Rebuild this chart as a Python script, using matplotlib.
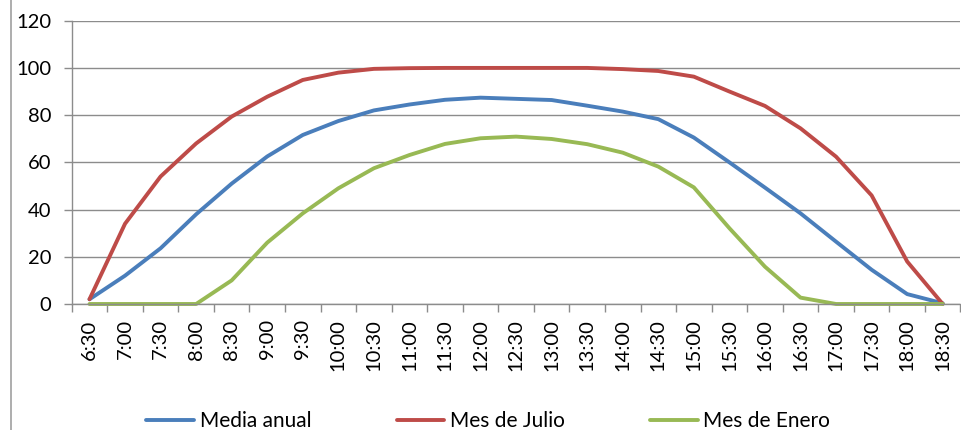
import matplotlib
matplotlib.use("Agg")
import matplotlib.pyplot as plt
from matplotlib.lines import Line2D

plt.rcParams['font.family'] = ['Lato', 'DejaVu Sans']

horas = ["6:30", "7:00", "7:30", "8:00", "8:30", "9:00", "9:30", "10:00", "10:30",
         "11:00", "11:30", "12:00", "12:30", "13:00", "13:30", "14:00", "14:30",
         "15:00", "15:30", "16:00", "16:30", "17:00", "17:30", "18:00", "18:30"]

media_anual = [2, 12, 23.6, 38, 51, 62.5, 71.6, 77.5, 82, 84.5, 86.5, 87.4, 86.9,
               86.4, 84, 81.5, 78.3, 70.5, 60, 49.3, 38.4, 26.4, 14.5, 4.2, 0.3]
mes_julio = [2, 34, 54, 68, 79.4, 87.8, 94.9, 98, 99.6, 99.9, 100, 100, 100,
             100, 100, 99.5, 98.7, 96.3, 90, 83.9, 74.4, 62.4, 46, 18, 0]
mes_enero = [0, 0, 0, 0, 10, 26, 38.4, 49, 57.5, 63.1, 67.8, 70.2, 70.9,
             69.9, 67.7, 64.1, 58.2, 49.4, 32.1, 15.8, 2.7, 0, 0, 0, 0]

series = [("Media anual", media_anual, "#4A7EBB"),
          ("Mes de Julio", mes_julio, "#BE4B48"),
          ("Mes de Enero", mes_enero, "#98B954")]

W, H = 961, 430
fig = plt.figure(figsize=(W / 100, H / 100), dpi=100)
ax = fig.add_axes([71.7 / W, (H - 304) / H, 888.8 / W, 283.3 / H])

x = list(range(len(horas)))
for nombre, valores, color in series:
    ax.plot(x, valores, color=color, lw=2.8, label=nombre,
            solid_joinstyle='round', solid_capstyle='round', clip_on=False)

grid_c = "#8C8C8C"
ax.set_ylim(0, 120)
ax.set_xlim(-0.5, len(horas) - 0.5)
ax.set_yticks(range(0, 121, 20))
ax.yaxis.grid(True, color=grid_c, lw=1)
ax.set_axisbelow(True)

ax.set_xticks([i - 0.5 for i in range(len(horas) + 1)])
ax.set_xticklabels([])
ax.set_xticks(x, minor=True)
ax.set_xticklabels(horas, minor=True, rotation=90, fontsize=14.5)
ax.tick_params(axis='x', which='major', length=5.5, color=grid_c, width=1)
ax.tick_params(axis='x', which='minor', length=0, pad=11)
ax.tick_params(axis='y', length=5.5, color=grid_c, width=1, labelsize=14.5, pad=9)

for s in ['top', 'right']:
    ax.spines[s].set_visible(False)
for s in ['left', 'bottom']:
    ax.spines[s].set_color(grid_c)
    ax.spines[s].set_linewidth(1)

# chart-area border on the left
fig.add_artist(Line2D([10.5 / W, 10.5 / W], [0, 1], color="#A0A0A0", lw=1.2,
                      transform=fig.transFigure))

fig.legend(loc='center', bbox_to_anchor=(0.508, (H - 421) / H), ncol=3,
           frameon=False, fontsize=15, handlelength=2.3, handletextpad=0.25,
           columnspacing=4.1, borderpad=0)

fig.savefig("out.png", dpi=100)
